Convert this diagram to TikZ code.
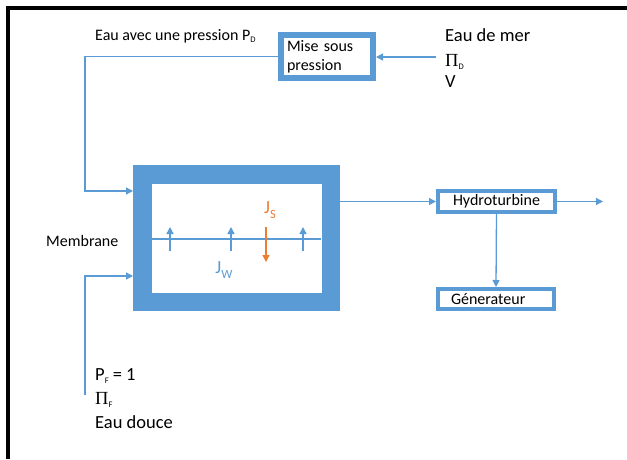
\documentclass[tikz,border=0pt]{standalone}
\usepackage{fontspec}
\setmainfont{Carlito}
\newfontfamily\greekfont{Liberation Serif}
\usetikzlibrary{arrows.meta}
\definecolor{boxblue}{HTML}{5B9BD5}
\definecolor{fluxorange}{HTML}{ED7D31}
\newcommand{\petitind}[1]{\raisebox{-0.3ex}{\fontsize{8.5}{9}\selectfont #1}}
\newcommand{\grandind}[1]{\raisebox{-0.5ex}{\fontsize{12.5}{13}\selectfont #1}}

\begin{document}
\begin{tikzpicture}[x=1pt,y=-1pt,
  bloc/.style={draw=boxblue,fill=white,rectangle,inner sep=0pt,font=\fontsize{16}{19}\selectfont},
  flow/.style={boxblue,line width=1.3pt,-{Triangle[length=7pt,width=7pt]}},
  lab/.style={anchor=west,inner sep=0pt,font=\fontsize{16}{19}\selectfont},
  biglab/.style={anchor=west,inner sep=0pt,font=\fontsize{18.5}{22}\selectfont},
  fluxlab/.style={inner sep=0pt,font=\fontsize{18.5}{22}\selectfont}]
\useasboundingbox (0,0) rectangle (627,459);
\draw[line width=4pt] (7.5,459) -- (7.5,8) -- (627,8);

\node[bloc,line width=6pt,minimum width=92pt,minimum height=43pt,text width=80pt,align=left] (mise) at (327,56.5) {Mise sous\\pression};
\node[bloc,line width=18.5pt,minimum width=188.5pt,minimum height=127.5pt] (memb) at (236.5,238) {};
\node[bloc,line width=4pt,minimum width=117pt,minimum height=21pt] (hydro) at (496.5,201.5) {Hydroturbine};
\node[bloc,line width=4pt,minimum width=116pt,minimum height=20pt,text width=90pt,align=left] (gen) at (496,299) {Génerateur};

\node[lab] (pd) at (95,36) {Eau avec une pression P\petitind{D}};
\node[biglab] (mer) at (445,35) {Eau de mer};
\node[biglab] (pid) at (445,62) {{\greekfont Π}\petitind{D}};
\node[biglab] (vol) at (445,82) {V};
\node[lab] (memlab) at (46,241) {Membrane};
\node[fluxlab,text=fluxorange] (js) at (270,210) {J\grandind{S}};
\node[fluxlab,text=boxblue] (jw) at (224,270) {J\grandind{W}};
\node[biglab] (pf) at (95,376) {P\petitind{F} = 1};
\node[biglab] (pif) at (95,400) {{\greekfont Π}\petitind{F}};
\node[biglab] (douce) at (95,422) {Eau douce};

\coordinate (topknee) at (85,191);
\coordinate (botknee) at (85,276);
\coordinate (botstart) at (85,395);
\coordinate (seain) at (436,57);
\coordinate (outend) at (603,201.5);

\draw[flow] (mise.west) -| (topknee) -- (topknee -| memb.west);
\draw[flow] (botstart) -- (botknee) -- (botknee -| memb.west);
\draw[flow] (seain) -- (seain -| mise.east);
\draw[flow] (memb.east |- hydro.west) -- (hydro.west);
\draw[flow] (hydro.east) -- (outend);
\draw[flow] (hydro.south) -- (gen.north);

\draw[boxblue,line width=1.3pt] (151.5,239) -- (321,239);
\foreach \x in {170,231,303}{
	\draw[flow] (\x,251) -- (\x,227);
	}
\draw[flow,fluxorange] (266,227) -- (266,262);
\end{tikzpicture}
\end{document}
